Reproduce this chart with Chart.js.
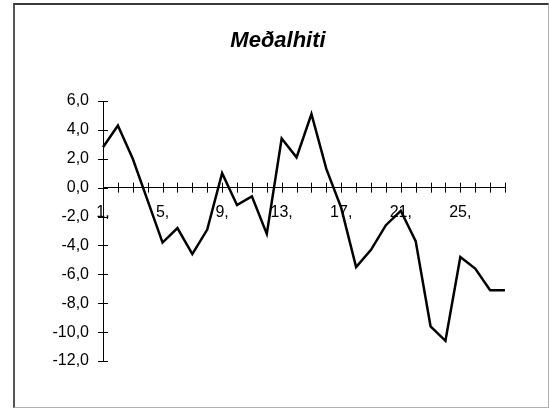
<!DOCTYPE html>
<html>
<head>
<meta charset="utf-8">
<script src="https://cdn.jsdelivr.net/npm/chart.js@4"></script>
<style>
  html, body { margin: 0; padding: 0; background: #fff; }
  #wrap { position: relative; width: 550px; height: 408px; }
  #frame { position: absolute; left: 13px; top: 3px; width: 533px; height: 402px;
           border-top: 2px solid #3a3a3a; border-left: 2px solid #555;
           border-right: 1px solid #b0b0b0; border-bottom: 1px solid #b0b0b0; pointer-events: none; }
  canvas { position: absolute; left: 0; top: 0; }
</style>
</head>
<body>
<div id="wrap">
  <canvas id="c" width="550" height="408"></canvas>
  <div id="frame"></div>
</div>
<script>
const titleText = "Meðalhiti";
const categories = ["1,","2,","3,","4,","5,","6,","7,","8,","9,","10,","11,","12,","13,","14,",
                    "15,","16,","17,","18,","19,","20,","21,","22,","23,","24,","25,","26,","27,","28,"];
const values = [2.8, 4.3, 2.0, -0.9, -3.8, -2.8, -4.6, -2.9, 1.0, -1.2, -0.6, -3.2, 3.4, 2.1,
                5.1, 1.3, -1.4, -5.5, -4.3, -2.6, -1.6, -3.7, -9.6, -10.6, -4.8, -5.6, -7.1, -7.1];
const yMin = -12, yMax = 6, yStep = 2;
const labelEvery = 4;

const FONT = "'Liberation Sans', Arial, sans-serif";

const crossTicks = {
  id: 'crossTicks',
  afterDatasetsDraw(chart) {
    const ctx = chart.ctx, x = chart.scales.x, y = chart.scales.y;
    const y0 = y.getPixelForValue(0);
    const xl = chart.chartArea.left;
    ctx.save();
    ctx.strokeStyle = '#000';
    ctx.lineWidth = 1;
    ctx.beginPath();
    for (let i = 0; i < categories.length; i++) {
      const px = Math.round(x.getPixelForValue(i)) + 0.5;
      ctx.moveTo(px, y0 - 5); ctx.lineTo(px, y0 + 5);
    }
    y.ticks.forEach(t => {
      const py = Math.round(y.getPixelForValue(t.value)) + 0.5;
      ctx.moveTo(xl - 5, py); ctx.lineTo(xl + 5, py);
    });
    ctx.stroke();
    ctx.restore();
  }
};

new Chart(document.getElementById('c'), {
  type: 'line',
  data: {
    labels: categories,
    datasets: [{
      data: values,
      borderColor: '#000',
      borderWidth: 2.5,
      pointRadius: 0,
      tension: 0,
      fill: false
    }]
  },
  options: {
    responsive: false,
    animation: false,
    devicePixelRatio: 1,
    layout: { padding: { left: 51, right: 45, top: 0, bottom: 47 } },
    plugins: {
      legend: { display: false },
      tooltip: { enabled: false },
      title: {
        display: true,
        text: titleText,
        color: '#000',
        font: { family: FONT, size: 22, style: 'italic', weight: 'bold', lineHeight: 1.2 },
        padding: { top: 28, bottom: 46.6 }
      }
    },
    scales: {
      x: {
        type: 'category',
        position: { y: 0 },
        offset: false,
        grid: { display: false, drawTicks: false },
        border: { display: true, color: '#000', width: 1 },
        ticks: {
          autoSkip: false,
          maxRotation: 0,
          padding: 15,
          color: '#000',
          font: { family: FONT, size: 16 },
          callback: function(v, i) { return i % labelEvery === 0 ? categories[i] : ''; }
        }
      },
      y: {
        min: yMin, max: yMax,
        grid: { display: false, drawTicks: false },
        border: { display: true, color: '#000', width: 1 },
        afterFit(scale) { scale.width = 52; },
        ticks: {
          stepSize: yStep,
          padding: 14,
          color: '#000',
          font: { family: FONT, size: 16 },
          callback: v => v.toFixed(1).replace('.', ',')
        }
      }
    }
  },
  plugins: [crossTicks]
});
</script>
</body>
</html>
